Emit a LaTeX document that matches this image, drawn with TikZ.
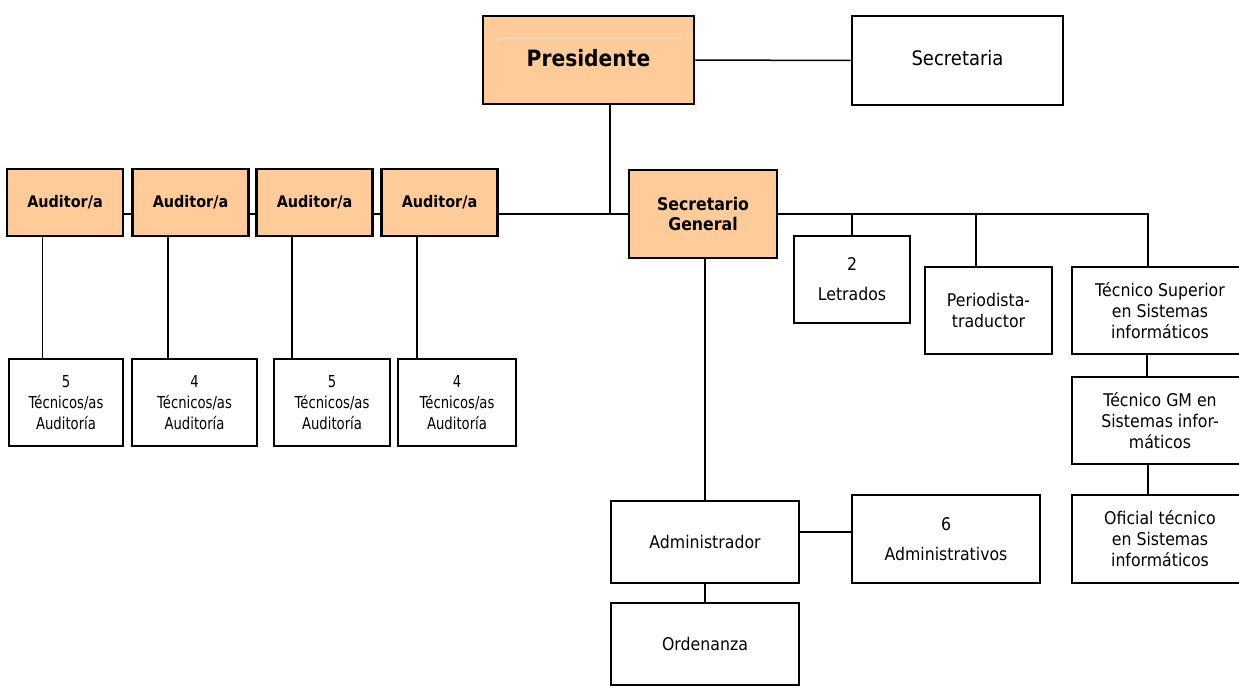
\documentclass[tikz,border=0pt]{standalone}
\usepackage{fontspec}
\setmainfont{DejaVu Sans}[FakeStretch=0.9]
\newfontfamily\tightfont{DejaVu Sans}[FakeStretch=0.8]
\usepackage{tikz}
\usetikzlibrary{calc}
\usepackage{xcolor}
\definecolor{headfill}{RGB}{255,204,153}

\tikzset{
  every unit/.style={draw, line width=2.6pt, align=center, inner sep=0pt,
    font=\fontsize{17.5}{21}\selectfont},
  head unit/.style={every unit, fill=headfill,
    font=\bfseries\fontsize{16}{20}\selectfont},
  link/.style={line width=1.5pt}
}

\begin{document}
\begin{tikzpicture}[x=1pt, y=-1pt]

\useasboundingbox (0,0) rectangle (1239,686);
\clip (0,0) rectangle (1239,686);

\node [head unit, minimum width=211, minimum height=88,
  font=\bfseries\fontsize{22.5}{26}\selectfont] (pres) at (588.5,60) {\raisebox{4pt}{Presidente}};
\draw [draw=brown!30, line width=0.8pt] ($(pres.north west)+(16,24)$) rectangle ($(pres.south east)+(-14,-10)$);

\node [every unit, minimum width=211, minimum height=89,
  font=\fontsize{20}{24}\selectfont] (secretaria) at (957.5,60.5) {\raisebox{5pt}{Secretaria}};

\node [head unit, minimum width=148, minimum height=88,
  font=\bfseries\fontsize{17.5}{20}\selectfont] (sg) at (703,214) {Secretario\\General};

\foreach \x [count=\i] in {65,190.5,314.5,439.5}
  \node [head unit, minimum width=116, minimum height=67] (auditor-\i) at (\x,202.5) {Auditor/a};

\foreach \x/\w/\n [count=\i] in {66/114/5, 194.5/125/4, 332/116/5, 457/118/4}
  \node [every unit, minimum width=\w, minimum height=87,
    font=\tightfont\fontsize{16.5}{21}\selectfont] (tecnicos-\i) at (\x,402.5) {\n\\Técnicos/as\\Auditoría};

% rama derecha
\node [every unit, minimum width=116, minimum height=87] (letrados) at (852,279.5) {2\\[9pt]Letrados};
\node [every unit, minimum width=127, minimum height=87] (periodista) at (988.5,310.5) {Periodista-\\traductor};
\node [every unit, minimum width=176, minimum height=87] (tsup) at (1160,310.5) {Técnico Superior\\en Sistemas\\informáticos};
\node [every unit, minimum width=176, minimum height=87] (tgm) at (1160,420.5) {Técnico GM en\\Sistemas infor-\\máticos};
\node [every unit, minimum width=176, minimum height=88] (oficial) at (1160,539) {Oficial técnico\\en Sistemas\\informáticos};

% administracion
\node [every unit, minimum width=188, minimum height=82] (admin) at (705,542) {Administrador};
\node [every unit, minimum width=188, minimum height=88] (administrativos) at (946,539) {6\\[9pt]Administrativos};
\node [every unit, minimum width=188, minimum height=82] (ordenanza) at (705,644) {Ordenanza};

\draw [link] (pres) -- (secretaria);
\draw [link] ([xshift=21.5]pres.south) -- ([xshift=21.5]pres.south |- sg.west);

\foreach \i/\j in {1/2,2/3,3/4}
  \draw [link] (auditor-\i.east |- sg.west) -- (auditor-\j.west |- sg.west);
\draw [link] (auditor-4.east |- sg.west) -- (sg.west);

\foreach \i in {1,...,4}
  \draw [link] ([xshift=-22.5]auditor-\i.south) -- ([xshift=-22.5]auditor-\i.south |- tecnicos-\i.north);

\draw [link] (sg.east) -- ([xshift=-12]tsup.north |- sg.east) -- ([xshift=-12]tsup.north);
\draw [link] (letrados.north |- sg.east) -- (letrados.north);
\draw [link] ([xshift=-12.5]periodista.north |- sg.east) -- ([xshift=-12.5]periodista.north);
\draw [link] ([xshift=-13]tsup.south) -- ([xshift=-13]tgm.north);
\draw [link] ([xshift=-12]tgm.south) -- ([xshift=-12]oficial.north);

\draw [link] (admin.north |- sg.south) -- (admin.north);
\draw [link] ([yshift=10]admin.east) -- ([yshift=10]admin.east -| administrativos.west);
\draw [link] (admin.south) -- (ordenanza.north);

\end{tikzpicture}
\end{document}
